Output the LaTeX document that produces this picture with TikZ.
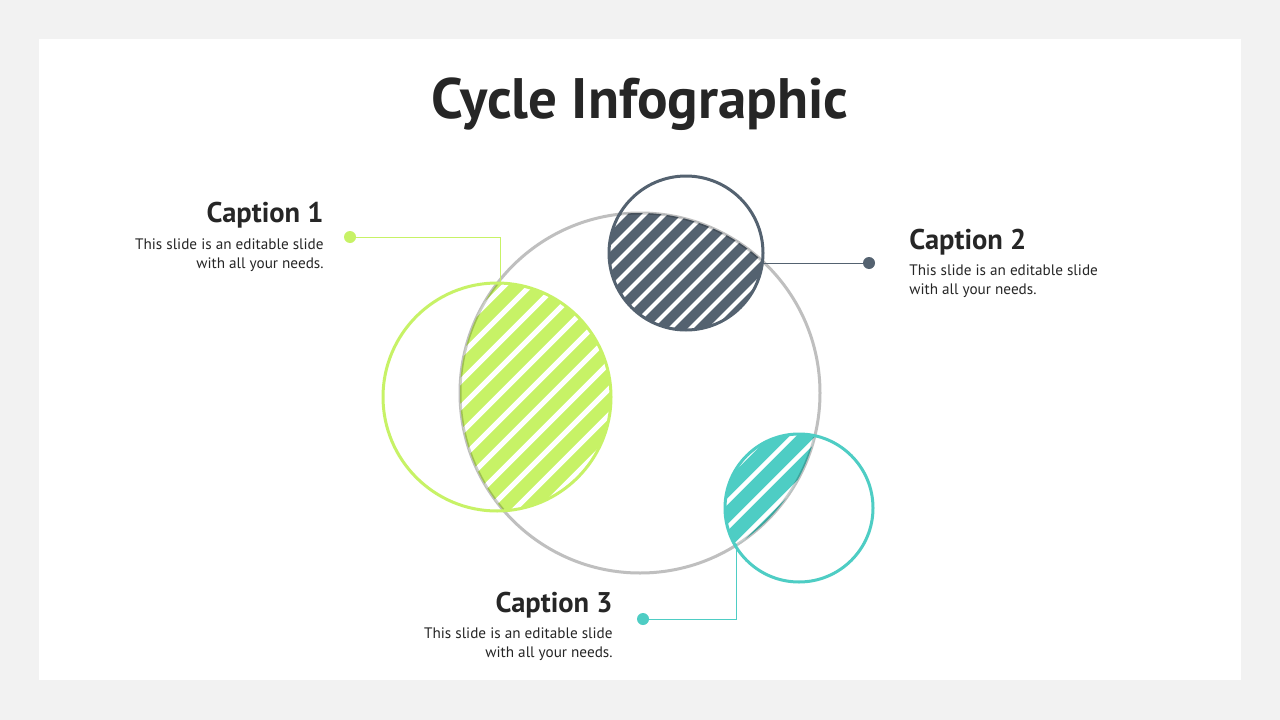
\documentclass[tikz,border=0pt]{standalone}
\usepackage{fontspec}
\setmainfont{PT Sans}
\usepackage{xcolor}
\definecolor{cgreen}{RGB}{199,242,102}
\definecolor{cdark}{RGB}{84,98,112}
\definecolor{cteal}{RGB}{78,205,196}
\definecolor{cgray}{RGB}{191,191,191}
\definecolor{ctext}{RGB}{38,38,38}
\definecolor{cback}{RGB}{242,242,242}
\begin{document}
\begin{tikzpicture}[x=1pt,y=-1pt,thick,
    ring/.style={circle,draw,line width=3pt,inner sep=0pt,outer sep=0pt},
    dot/.style={circle,fill,inner sep=0pt,minimum size=12pt},
    leader/.style={line width=1pt},
    head/.style={font=\fontsize{28.5}{31}\selectfont\bfseries,text=ctext,inner sep=0pt},
    body/.style={font=\fontsize{15.2}{19.5}\selectfont,text=ctext,inner sep=0pt}]

    \fill[cback] (0,0) rectangle (1280,720);
    \fill[white] (39,39) rectangle (1241,680);

    \node[font=\fontsize{57}{62}\selectfont\bfseries,text=ctext] (title) at (640,104) {Cycle Infographic};

    % big cycle
    \node[ring,draw=cgray,minimum size=360pt] (big) at (640,393) {};

    % hatched parts
    \begin{scope}
        \clip (497,397) circle (114pt);
        \clip (640,393) circle (180pt);
        \fill[cgreen] (380,200) rectangle (640,520);
        \foreach \k in {-260,-234,...,260}
            \draw[white,line width=5pt] (497+\k-160,397+160) -- (497+\k+160,397-160);
        \draw[black,opacity=0.2,line width=3pt] (640,393) circle (180pt);
    \end{scope}
    \begin{scope}
        \clip (686,253) circle (77pt);
        \clip (640,393) circle (180pt);
        \fill[cdark] (600,170) rectangle (770,340);
        \foreach \k in {-200,-180,...,200}
            \draw[white,line width=4pt] (686+\k-110,253+110) -- (686+\k+110,253-110);
        \draw[black,opacity=0.2,line width=3pt] (640,393) circle (180pt);
    \end{scope}
    \begin{scope}
        \clip (799,508) circle (74pt);
        \clip (640,393) circle (180pt);
        \fill[cteal] (720,430) rectangle (880,590);
        \foreach \k in {-208,-182,...,208}
            \draw[white,line width=4.5pt] (799+\k-110,508+110) -- (799+\k+110,508-110);
        \draw[black,opacity=0.2,line width=3pt] (640,393) circle (180pt);
    \end{scope}

    % rings
    \node[ring,draw=cgreen,minimum size=228pt] (g) at (497,397) {};
    \node[ring,draw=cdark,minimum size=154pt] (d) at (686,253) {};
    \node[ring,draw=cteal,minimum size=148pt] (t) at (799,508) {};

    % leaders
    \coordinate (g1) at (500,284);
    \coordinate (d1) at (764,263);
    \coordinate (t1) at (736,544);
    \node[dot,fill=cgreen] (gdot) at (350,237) {};
    \node[dot,fill=cdark] (ddot) at (869,263) {};
    \node[dot,fill=cteal] (tdot) at (643,619) {};
    \draw[leader,cgreen] (gdot) -| (g1);
    \draw[leader,cdark] (d1) -- (ddot);
    \draw[leader,cteal] (tdot) -| (t1);

    % captions
    \node[head,anchor=east] (cap1) at (324,215) {Caption 1};
    \node[body,anchor=north east,align=right] (txt1) at (324,238) {This slide is an editable slide\\with all your needs.};
    \node[head,anchor=west] (cap2) at (909,242) {Caption 2};
    \node[body,anchor=north west,align=left] (txt2) at (909,264) {This slide is an editable slide\\with all your needs.};
    \node[head,anchor=east] (cap3) at (613,605) {Caption 3};
    \node[body,anchor=north east,align=right] (txt3) at (613,627) {This slide is an editable slide\\with all your needs.};
\end{tikzpicture}
\end{document}
